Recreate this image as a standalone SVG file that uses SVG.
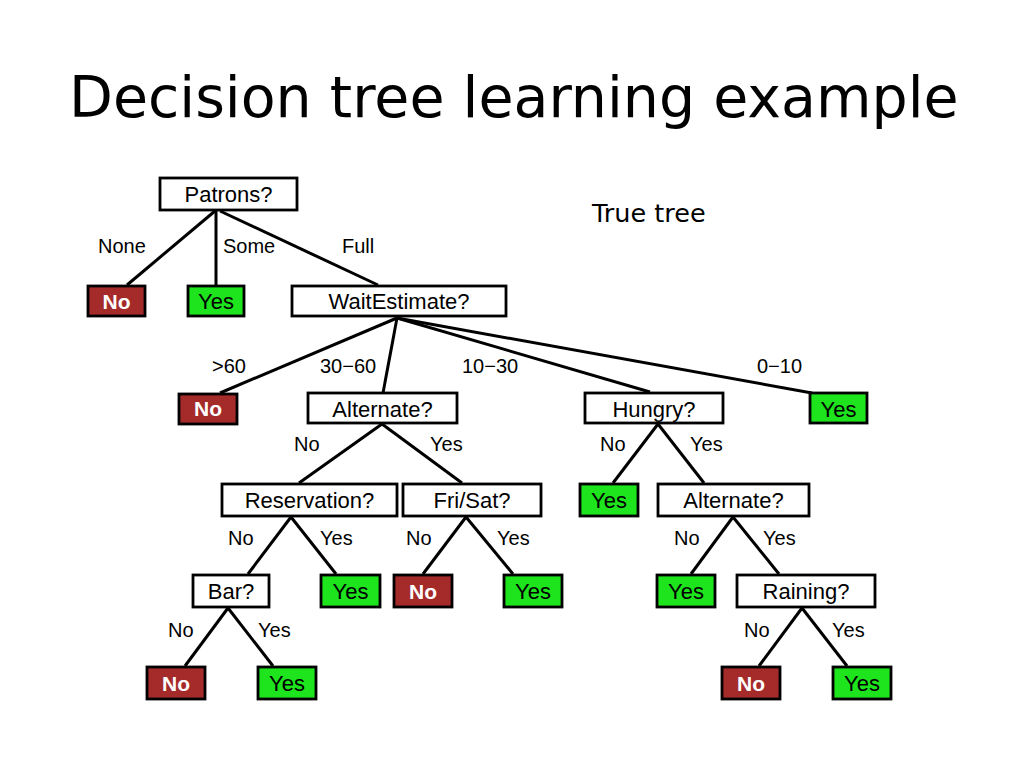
<svg xmlns="http://www.w3.org/2000/svg" width="1024" height="768" viewBox="0 0 1024 768">
<style>
.q{fill:#fff;stroke:#000;stroke-width:2.8}
.r{fill:#a52a2a;stroke:#000;stroke-width:2.8}
.g{fill:#1ee41e;stroke:#000;stroke-width:2.8}
.t{font-family:"Liberation Sans",Arial,sans-serif;font-size:22px;text-anchor:middle;fill:#000}
.tn{font-family:"Liberation Sans",Arial,sans-serif;font-size:21px;font-weight:bold;text-anchor:middle;fill:#fff}
.l{font-family:"Liberation Sans",Arial,sans-serif;font-size:20px;fill:#000}
#edges line{stroke:#000;stroke-width:3}
</style>
<rect width="1024" height="768" fill="#fff"/>
<text x="69" y="117" font-family="DejaVu Sans, Verdana, sans-serif" font-size="57" fill="#000">Decision tree learning example</text>
<text x="592" y="222" font-family="DejaVu Sans, Verdana, sans-serif" font-size="25.5" fill="#000">True tree</text>
<g id="edges">
<line x1="215" y1="211" x2="127" y2="285"/>
<line x1="216" y1="211" x2="216" y2="285"/>
<line x1="220" y1="211" x2="378" y2="285"/>
<line x1="397" y1="318" x2="220" y2="393"/>
<line x1="397" y1="318" x2="383" y2="393"/>
<line x1="397" y1="318" x2="650" y2="392"/>
<line x1="397" y1="318" x2="812" y2="393"/>
<line x1="382" y1="424" x2="299" y2="483"/>
<line x1="382" y1="424" x2="462" y2="483"/>
<line x1="658" y1="424" x2="613" y2="483"/>
<line x1="658" y1="424" x2="704" y2="483"/>
<line x1="291" y1="517" x2="248" y2="574"/>
<line x1="291" y1="517" x2="336" y2="574"/>
<line x1="466" y1="517" x2="423" y2="574"/>
<line x1="466" y1="517" x2="513" y2="574"/>
<line x1="733" y1="517" x2="691" y2="574"/>
<line x1="733" y1="517" x2="779" y2="574"/>
<line x1="228" y1="608" x2="185" y2="666"/>
<line x1="228" y1="608" x2="273" y2="666"/>
<line x1="802" y1="608" x2="759" y2="666"/>
<line x1="802" y1="608" x2="847" y2="666"/>
</g>
<g id="edge-labels">
<text class="l" x="98" y="253">None</text>
<text class="l" x="223" y="253">Some</text>
<text class="l" x="342" y="253">Full</text>
<text class="l" x="212" y="373">&gt;60</text>
<text class="l" x="320" y="373">30−60</text>
<text class="l" x="462" y="373">10−30</text>
<text class="l" x="757" y="373">0−10</text>
<text class="l" x="294" y="451">No</text>
<text class="l" x="430" y="451">Yes</text>
<text class="l" x="600" y="451">No</text>
<text class="l" x="690" y="451">Yes</text>
<text class="l" x="228" y="545">No</text>
<text class="l" x="320" y="545">Yes</text>
<text class="l" x="406" y="545">No</text>
<text class="l" x="497" y="545">Yes</text>
<text class="l" x="674" y="545">No</text>
<text class="l" x="763" y="545">Yes</text>
<text class="l" x="168" y="637">No</text>
<text class="l" x="258" y="637">Yes</text>
<text class="l" x="744" y="637">No</text>
<text class="l" x="832" y="637">Yes</text>
</g>
<g id="patrons"><rect class="q" x="160" y="178" width="137" height="32"/><text class="t" x="228.5" y="202">Patrons?</text></g>
<g id="leaf-none"><rect class="r" x="88" y="286" width="57" height="30"/><text class="tn" x="116.5" y="308.5">No</text></g>
<g id="leaf-some"><rect class="g" x="188" y="286" width="56" height="30"/><text class="t" x="216" y="309">Yes</text></g>
<g id="waitestimate"><rect class="q" x="292" y="286" width="214" height="30"/><text class="t" x="399" y="309">WaitEstimate?</text></g>
<g id="leaf-gt60"><rect class="r" x="179" y="394" width="58" height="30"/><text class="tn" x="208" y="416">No</text></g>
<g id="alternate1"><rect class="q" x="308" y="393" width="149" height="30"/><text class="t" x="382.5" y="416.5">Alternate?</text></g>
<g id="hungry"><rect class="q" x="585" y="393" width="138" height="30"/><text class="t" x="654" y="416.5">Hungry?</text></g>
<g id="leaf-0-10"><rect class="g" x="810" y="393" width="57" height="30"/><text class="t" x="838.5" y="416.5">Yes</text></g>
<g id="reservation"><rect class="q" x="222" y="484" width="175" height="32"/><text class="t" x="309.5" y="508">Reservation?</text></g>
<g id="frisat"><rect class="q" x="403" y="484" width="138" height="32"/><text class="t" x="472" y="508">Fri/Sat?</text></g>
<g id="leaf-hungry-no"><rect class="g" x="580" y="484" width="58" height="32"/><text class="t" x="609" y="508">Yes</text></g>
<g id="alternate2"><rect class="q" x="658" y="484" width="151" height="32"/><text class="t" x="733.5" y="508">Alternate?</text></g>
<g id="bar"><rect class="q" x="193" y="575" width="76" height="32"/><text class="t" x="231" y="599">Bar?</text></g>
<g id="leaf-res-yes"><rect class="g" x="321" y="575" width="59" height="32"/><text class="t" x="350.5" y="599">Yes</text></g>
<g id="leaf-fri-no"><rect class="r" x="394" y="575" width="58" height="32"/><text class="tn" x="423" y="598.5">No</text></g>
<g id="leaf-fri-yes"><rect class="g" x="504" y="575" width="58" height="32"/><text class="t" x="533" y="599">Yes</text></g>
<g id="leaf-alt2-no"><rect class="g" x="657" y="575" width="58" height="32"/><text class="t" x="686" y="599">Yes</text></g>
<g id="raining"><rect class="q" x="737" y="575" width="138" height="32"/><text class="t" x="806" y="599">Raining?</text></g>
<g id="leaf-bar-no"><rect class="r" x="147" y="667" width="58" height="32"/><text class="tn" x="176" y="690.5">No</text></g>
<g id="leaf-bar-yes"><rect class="g" x="258" y="667" width="58" height="32"/><text class="t" x="287" y="691">Yes</text></g>
<g id="leaf-rain-no"><rect class="r" x="722" y="667" width="58" height="32"/><text class="tn" x="751" y="690.5">No</text></g>
<g id="leaf-rain-yes"><rect class="g" x="833" y="667" width="58" height="32"/><text class="t" x="862" y="691">Yes</text></g>
</svg>
